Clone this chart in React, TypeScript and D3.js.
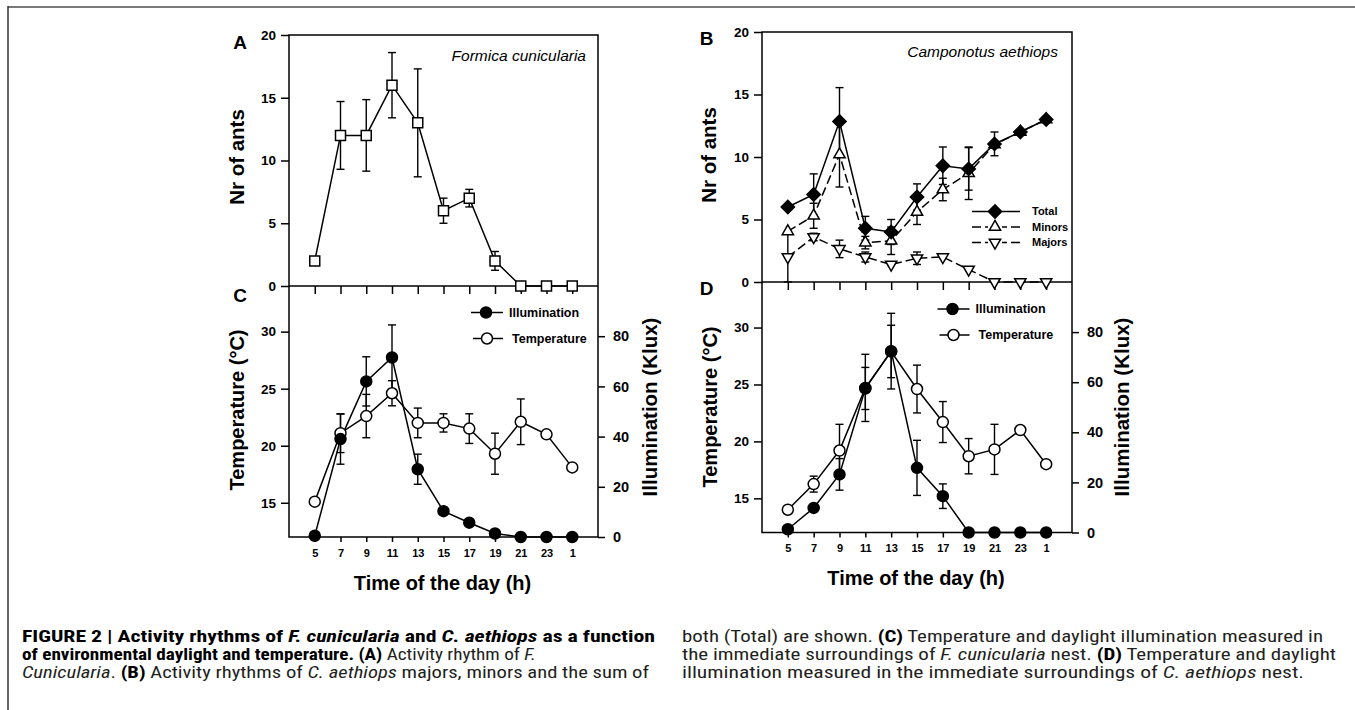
import React, { useEffect, useRef } from "react";
import * as d3 from "d3";

const hours = ["5", "7", "9", "11", "13", "15", "17", "19", "21", "23", "1"];

// A: Formica cunicularia
const formicaAnts = [2, 12, 12, 16, 13, 6, 7, 2, 0, 0, 0];
const formicaErr = [0, 2.7, 2.85, 2.6, 4.3, 1.0, 0.7, 0.75, 0, 0, 0];

// B: Camponotus aethiops
const totalAnts = [6, 7, 12.85, 4.3, 4, 6.8, 9.3, 9.05, 11.05, 12, 13];
const totalErr = [0, 1.65, 2.7, 0.95, 1.0, 1.05, 1.5, 1.7, 0.95, 0, 0];
const minorAnts = [4.05, 5.3, 10.2, 3.15, 3.3, 5.6, 7.4, 8.7, 11, 12, 13];
const minorErr = [0, 1.0, 2.6, 0.5, 1.1, 1.0, 0.9, 2.1, 0, 0, 0];
const majorAnts = [2, 3.6, 2.65, 2, 1.4, 1.9, 2, 1, 0, 0, 0];
const majorErr = [2, 0.3, 0.7, 0.4, 0, 0.5, 0, 0, 0, 0, 0];

// C: F. cunicularia nest surroundings
const illumC = [0.5, 39, 62, 71.5, 27, 10.3, 5.7, 1.4, 0, 0, 0];
const illumCErr = [0, 10, 9.8, 13, 6, 0, 0, 0, 0, 0, 0];
const tempC = [15.1, 21.1, 22.6, 24.6, 22, 22, 21.5, 19.3, 22.1, 21, 18.1];
const tempCErr = [0, 1.7, 1.9, 1.1, 1.3, 0.8, 1.3, 1.8, 2.0, 0, 0];

// D: C. aethiops nest surroundings
const illumD = [1.3, 9.8, 23.2, 57.5, 72.4, 25.8, 14.5, 0, 0, 0, 0];
const illumDErr = [0, 0, 6.3, 8.4, 15.1, 11, 4.9, 0, 0, 0, 0];
const tempD = [14, 16.25, 19.2, 24.7, 27.9, 24.6, 21.7, 18.7, 19.3, 21, 18];
const tempDErr = [0, 0.7, 2.3, 2.95, 2.3, 2.1, 1.8, 1.55, 2.2, 0, 0];

const antTicks = [0, 5, 10, 15, 20];
const tempTicks = [15, 20, 25, 30];
const illumTicks = [0, 20, 40, 60, 80];

type Seg = { t: string; b?: boolean; i?: boolean };
const captionLeft: Seg[][] = [
  [
    { t: "FIGURE 2 | Activity rhythms of ", b: true },
    { t: "F. cunicularia", b: true, i: true },
    { t: " and ", b: true },
    { t: "C. aethiops", b: true, i: true },
    { t: " as a function", b: true },
  ],
  [
    { t: "of environmental daylight and temperature. (A)", b: true },
    { t: " Activity rhythm of " },
    { t: "F.", i: true },
  ],
  [
    { t: "Cunicularia", i: true },
    { t: ". " },
    { t: "(B)", b: true },
    { t: " Activity rhythms of " },
    { t: "C. aethiops", i: true },
    { t: " majors, minors and the sum of" },
  ],
];
const captionRight: Seg[][] = [
  [
    { t: "both (Total) are shown. " },
    { t: "(C)", b: true },
    { t: " Temperature and daylight illumination measured in" },
  ],
  [
    { t: "the immediate surroundings of " },
    { t: "F. cunicularia", i: true },
    { t: " nest. " },
    { t: "(D)", b: true },
    { t: " Temperature and daylight" },
  ],
  [
    { t: "illumination measured in the immediate surroundings of " },
    { t: "C. aethiops", i: true },
    { t: " nest." },
  ],
];
const leftWidths = [633, 514, 627];
const rightWidths = [641, 654, 622];

const FONT = "'Liberation Sans', Arial, Helvetica, sans-serif";
const CAP_FONT = "'Liberation Sans Narrow', 'Arial Narrow', 'Roboto Condensed', 'Liberation Sans', sans-serif";

const W = 1355;
const H = 710;

const App = () => {
  const svgRef = useRef<SVGSVGElement>(null);

  useEffect(() => {
    const svg = d3.select(svgRef.current);
    svg.selectAll("*").remove();

    // page frame
    svg.append("line").attr("x1", 8).attr("x2", W).attr("y1", 7).attr("y2", 7)
      .attr("stroke", "#7a7a7a").attr("stroke-width", 2);
    svg.append("line").attr("x1", 8).attr("x2", 8).attr("y1", 6).attr("y2", H)
      .attr("stroke", "#333").attr("stroke-width", 1.5);

    const errorBars = (g: any, x: any, y: any, vals: number[], errs: number[]) => {
      vals.forEach((v, i) => {
        const e = errs[i];
        if (!e) return;
        const cx = x(hours[i]);
        const y0 = y(v - e);
        const y1 = y(v + e);
        g.append("line").attr("x1", cx).attr("x2", cx).attr("y1", y0).attr("y2", y1)
          .attr("stroke", "#000").attr("stroke-width", 1.4);
        [y0, y1].forEach((yy) => {
          g.append("line").attr("x1", cx - 4).attr("x2", cx + 4).attr("y1", yy).attr("y2", yy)
            .attr("stroke", "#000").attr("stroke-width", 1.4);
        });
      });
    };

    const seriesLine = (g: any, x: any, y: any, vals: number[], dash?: string) => {
      const line = d3.line<number>().x((_, i) => x(hours[i])).y((d) => y(d));
      g.append("path").datum(vals).attr("d", line).attr("fill", "none")
        .attr("stroke", "#000").attr("stroke-width", 1.5)
        .attr("stroke-dasharray", dash || null);
    };

    const marker = (g: any, cx: number, cy: number, kind: string) => {
      let type: any = d3.symbolCircle;
      let size = 95;
      let rot = 0;
      let fill = "#fff";
      if (kind === "square") { type = d3.symbolSquare; size = 100; }
      if (kind === "diamond") { type = d3.symbolSquare; size = 88; rot = 45; fill = "#000"; }
      if (kind === "up") { type = d3.symbolTriangle; size = 55; }
      if (kind === "down") { type = d3.symbolTriangle; size = 55; rot = 180; }
      if (kind === "filled") { fill = "#000"; }
      g.append("path").attr("d", d3.symbol().type(type).size(size)())
        .attr("transform", `translate(${cx},${cy}) rotate(${rot})`)
        .attr("fill", fill).attr("stroke", "#000").attr("stroke-width", 1.5);
    };

    const markers = (g: any, x: any, y: any, vals: number[], kind: string) => {
      vals.forEach((v, i) => marker(g, x(hours[i]), y(v), kind));
    };

    const styleAxis = (g: any, size: number) => {
      g.select(".domain").remove();
      g.selectAll("line").attr("stroke", "#000").attr("stroke-width", 1.5);
      g.selectAll("text").attr("font-family", FONT).attr("font-weight", "bold")
        .attr("font-size", size).attr("fill", "#000");
    };

    const rotLabel = (cx: number, cy: number, txt: string, size: number) => {
      svg.append("text").attr("transform", `translate(${cx},${cy}) rotate(-90)`)
        .attr("text-anchor", "middle").attr("dy", "0.35em")
        .attr("font-family", FONT).attr("font-weight", "bold").attr("font-size", size)
        .text(txt);
    };

    const plainText = (x: number, y: number, txt: string, size: number, opts: any = {}) => {
      svg.append("text").attr("x", x).attr("y", y)
        .attr("text-anchor", opts.anchor || "start")
        .attr("font-family", FONT).attr("font-weight", opts.italic ? "normal" : "bold")
        .attr("font-style", opts.italic ? "italic" : "normal")
        .attr("font-size", size).text(txt);
    };

    const drawColumn = (cfg: any) => {
      const { x0, x1, top, mid, bot, letterX, ants } = cfg;
      const x = d3.scalePoint<string>().domain(hours).range([x0, x1]).padding(1);
      const yA = d3.scaleLinear().domain([0, 20]).range([mid, top]);
      const yT = d3.scaleLinear().domain([12, 34]).range([bot, mid]);
      const yI = d3.scaleLinear().domain([0, 100]).range([bot, mid]);

      // frames
      svg.append("rect").attr("x", x0).attr("y", top).attr("width", x1 - x0).attr("height", bot - top)
        .attr("fill", "none").attr("stroke", "#000").attr("stroke-width", 1.5);
      svg.append("line").attr("x1", x0).attr("x2", x1).attr("y1", mid).attr("y2", mid)
        .attr("stroke", "#000").attr("stroke-width", 1.5);

      // axes
      svg.append("g").attr("transform", `translate(${x0},0)`)
        .call(d3.axisLeft(yA).tickValues(antTicks).tickSize(8).tickPadding(5))
        .call((g: any) => styleAxis(g, 13.5));
      svg.append("g").attr("transform", `translate(0,${mid})`)
        .call(d3.axisBottom(x).tickSize(8).tickFormat(() => ""))
        .call((g: any) => styleAxis(g, 11));
      svg.append("g").attr("transform", `translate(${x0},0)`)
        .call(d3.axisLeft(yT).tickValues(tempTicks).tickSize(8).tickPadding(5))
        .call((g: any) => styleAxis(g, 13.5));
      svg.append("g").attr("transform", `translate(${x1},0)`)
        .call(d3.axisRight(yI).tickValues(illumTicks).tickSize(7).tickPadding(8))
        .call((g: any) => styleAxis(g, 14.5));
      svg.append("g").attr("transform", `translate(0,${bot})`)
        .call(d3.axisBottom(x).tickSize(5).tickPadding(7))
        .call((g: any) => styleAxis(g, 11));

      // labels
      plainText(letterX, cfg.letterTopY, cfg.letterTop, 19, { anchor: "middle" });
      plainText(letterX, cfg.letterBotY, cfg.letterBot, 19, { anchor: "middle" });
      rotLabel(cfg.antLabelX, cfg.antLabelY, "Nr of ants", 20.5);
      rotLabel(cfg.tempLabelX, cfg.tempLabelY, "Temperature (°C)", 20);
      rotLabel(cfg.illumLabelX, cfg.illumLabelY, "Illumination (Klux)", 20.5);
      plainText((x0 + x1) / 2 - 1, cfg.timeY, "Time of the day (h)", 20, { anchor: "middle" });
      plainText(cfg.speciesX, cfg.speciesY, cfg.species, 15.5, { anchor: "end", italic: true });

      // ants panel
      const gA = svg.append("g");
      ants.forEach((s: any) => errorBars(gA, x, yA, s.vals, s.errs));
      ants.forEach((s: any) => seriesLine(gA, x, yA, s.vals, s.dash));
      ants.forEach((s: any) => markers(gA, x, yA, s.vals, s.kind));

      // climate panel
      const gC = svg.append("g");
      errorBars(gC, x, yT, cfg.temp, cfg.tempErr);
      errorBars(gC, x, yI, cfg.illum, cfg.illumErr);
      seriesLine(gC, x, yT, cfg.temp);
      seriesLine(gC, x, yI, cfg.illum);
      markers(gC, x, yT, cfg.temp, "open");
      markers(gC, x, yI, cfg.illum, "filled");

      // climate legend
      const lg = svg.append("g");
      const [lx, ly] = cfg.climLegend;
      [["Illumination", "filled"], ["Temperature", "open"]].forEach(([label, kind], i) => {
        const yy = ly + i * 26;
        lg.append("line").attr("x1", lx - 15 + i * 2).attr("x2", lx + 17).attr("y1", yy).attr("y2", yy)
          .attr("stroke", "#000").attr("stroke-width", 1.5);
        marker(lg, lx + i * 1, yy, kind);
        lg.append("text").attr("x", lx + 23 + i * 3).attr("y", yy).attr("dy", "0.35em")
          .attr("font-family", FONT).attr("font-weight", "bold").attr("font-size", 12.5).text(label);
      });

      if (cfg.antLegend) {
        const [ax, ay] = cfg.antLegend;
        const ag = svg.append("g");
        ants.slice().reverse().forEach((s: any, i: number) => {
          const yy = ay + i * 15.5;
          ag.append("line").attr("x1", ax - 23).attr("x2", ax + 25).attr("y1", yy).attr("y2", yy)
            .attr("stroke", "#000").attr("stroke-width", 1.5).attr("stroke-dasharray", s.dash || null);
          ag.append("rect").attr("x", ax - 7).attr("y", yy - 6).attr("width", 14).attr("height", 12).attr("fill", "#fff");
          marker(ag, ax, yy, s.kind);
          ag.append("text").attr("x", ax + 37).attr("y", yy).attr("dy", "0.35em")
            .attr("font-family", FONT).attr("font-weight", "bold").attr("font-size", 11).text(s.label);
        });
      }
    };

    drawColumn({
      x0: 289, x1: 598, top: 35, mid: 286, bot: 537,
      letterX: 240, letterTop: "A", letterTopY: 48.5, letterBot: "C", letterBotY: 302,
      antLabelX: 237, antLabelY: 157, tempLabelX: 237, tempLabelY: 410,
      illumLabelX: 650, illumLabelY: 407, timeY: 590,
      species: "Formica cunicularia", speciesX: 586, speciesY: 60.5,
      ants: [{ vals: formicaAnts, errs: formicaErr, kind: "square", label: "" }],
      temp: tempC, tempErr: tempCErr, illum: illumC, illumErr: illumCErr,
      climLegend: [486, 312.5],
    });

    drawColumn({
      x0: 762, x1: 1072, top: 32, mid: 282, bot: 532.5,
      letterX: 706.5, letterTop: "B", letterTopY: 45, letterBot: "D", letterBotY: 295,
      antLabelX: 709, antLabelY: 155, tempLabelX: 710, tempLabelY: 407,
      illumLabelX: 1122, illumLabelY: 407, timeY: 585,
      species: "Camponotus aethiops", speciesX: 1058, speciesY: 56.5,
      ants: [
        { vals: majorAnts, errs: majorErr, kind: "down", dash: "9,4", label: "Majors" },
        { vals: minorAnts, errs: minorErr, kind: "up", dash: "9,4", label: "Minors" },
        { vals: totalAnts, errs: totalErr, kind: "diamond", label: "Total" },
      ],
      antLegend: [995, 211.5],
      temp: tempD, tempErr: tempDErr, illum: illumD, illumErr: illumDErr,
      climLegend: [952.5, 309],
    });

    // caption
    const caption = (lines: Seg[][], x: number, widths: number[]) => {
      lines.forEach((segs, li) => {
        const t = svg.append("text").attr("x", x).attr("y", 641.5 + li * 18)
          .attr("font-family", CAP_FONT).attr("font-size", 16).attr("fill", "#231f20")
          .attr("textLength", widths[li]).attr("lengthAdjust", "spacingAndGlyphs")
          .style("white-space", "pre");
        segs.forEach((s) => {
          t.append("tspan").attr("font-weight", s.b ? "bold" : "normal")
            .attr("font-style", s.i ? "italic" : "normal")
            .attr("fill", s.b ? "#000" : "#231f20").text(s.t);
        });
      });
    };
    caption(captionLeft, 22, leftWidths);
    caption(captionRight, 682, rightWidths);
  }, []);

  return (
    <div style={{ position: "absolute", left: 0, top: 0, background: "#fff" }}>
      <svg ref={svgRef} width={W} height={H} style={{ display: "block" }} />
    </div>
  );
};

export default App;
